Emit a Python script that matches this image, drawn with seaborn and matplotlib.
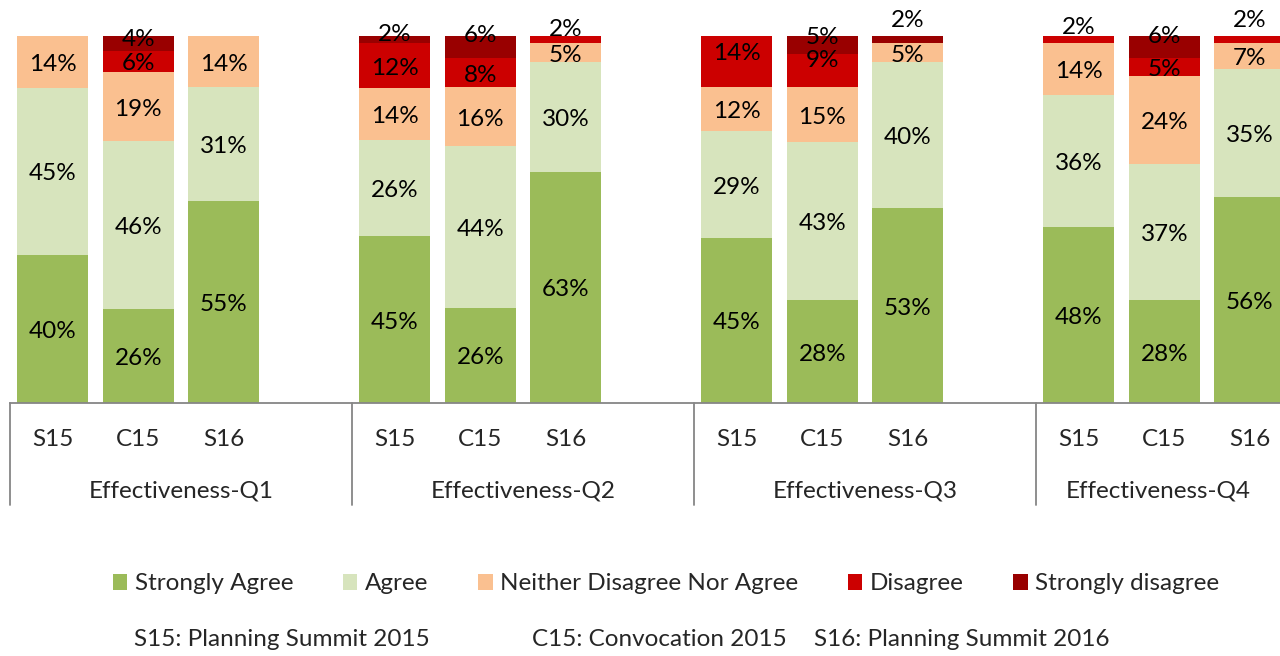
import numpy as np
import pandas as pd
import matplotlib
matplotlib.use("Agg")
import matplotlib.pyplot as plt
import matplotlib.transforms as mtransforms
from matplotlib.patches import Patch
import seaborn as sns

# ---------------- data ----------------
groups = ["Effectiveness-Q1", "Effectiveness-Q2", "Effectiveness-Q3", "Effectiveness-Q4"]
surveys = ["S15", "C15", "S16"]
categories = ["Strongly Agree", "Agree", "Neither Disagree Nor Agree", "Disagree", "Strongly disagree"]
strongly_agree = [40, 26, 55, 45, 26, 63, 45, 28, 53, 48, 28, 56]
agree = [45, 46, 31, 26, 44, 30, 29, 43, 40, 36, 37, 35]
neither = [14, 19, 14, 14, 16, 5, 12, 15, 5, 14, 24, 7]
disagree = [0, 6, 0, 12, 8, 2, 14, 9, 0, 2, 5, 2]
strongly_disagree = [0, 4, 0, 2, 6, 0, 0, 5, 2, 0, 6, 0]
footnotes = ["S15: Planning Summit 2015", "C15: Convocation 2015", "S16: Planning Summit 2016"]

colors = ["#9BBB59", "#D7E4BD", "#FAC090", "#CC0000", "#990000"]

# manual label shifts (pixels upward) for small top segments
label_shift = {
    ("Effectiveness-Q1", "C15", "Strongly disagree"): 6,
    ("Effectiveness-Q2", "S15", "Strongly disagree"): 8,
    ("Effectiveness-Q2", "C15", "Strongly disagree"): 14,
    ("Effectiveness-Q2", "S16", "Disagree"): 13,
    ("Effectiveness-Q3", "S15", "Disagree"): 11,
    ("Effectiveness-Q3", "C15", "Strongly disagree"): 10,
    ("Effectiveness-Q3", "C15", "Disagree"): 13,
    ("Effectiveness-Q3", "S16", "Strongly disagree"): 22,
    ("Effectiveness-Q4", "S15", "Disagree"): 15,
    ("Effectiveness-Q4", "C15", "Strongly disagree"): 13,
    ("Effectiveness-Q4", "S16", "Disagree"): 22,
}

FONT = ["Lato", "DejaVu Sans"]
FS = 17.5
sns.set_theme(style="white")
plt.rcParams["font.family"] = FONT

# ---------------- frame ----------------
rows = []
series = [strongly_agree, agree, neither, disagree, strongly_disagree]
for gi, g in enumerate(groups):
    for si, s in enumerate(surveys):
        idx = gi * 3 + si
        vals = [ser[idx] for ser in series]
        rows.append(dict(group=g, survey=s, pos=gi * 4 + si + 0.5,
                         **{c: v for c, v in zip(categories, vals)}))
df = pd.DataFrame(rows)
total = df[categories].sum(axis=1)
norm = df[categories].div(total, axis=0) * 100
cum = norm.cumsum(axis=1)
for c in categories:
    df["cum_" + c] = cum[c]
    df["bot_" + c] = cum[c] - norm[c]
    df["h_" + c] = norm[c]

# ---------------- figure ----------------
W, H = 1280, 656
fig = plt.figure(figsize=(W / 100, H / 100), dpi=100)
ax_left, ax_right = 10, 10 + 16 * 85.5
ax_top, ax_bot = 36, 403
ax = fig.add_axes([ax_left / W, 1 - ax_bot / H, (ax_right - ax_left) / W, (ax_bot - ax_top) / H])

for c, col in reversed(list(zip(categories, colors))):
    sns.barplot(data=df, x="pos", y="cum_" + c, native_scale=True, width=0.83,
                color=col, saturation=1, errorbar=None, linewidth=0, ax=ax)

ax.set_xlim(0, 16)
ax.set_ylim(0, 100)
ax.set_xlabel("")
ax.set_ylabel("")
ax.set_yticks([])
for sp in ["top", "right", "left"]:
    ax.spines[sp].set_visible(False)
ax.spines["bottom"].set_color("#868686")
ax.spines["bottom"].set_linewidth(1.3)

# data labels
for _, r in df.iterrows():
    for c in categories:
        v = r[c]
        if v <= 0:
            continue
        yc = r["bot_" + c] + r["h_" + c] / 2
        shift = label_shift.get((r["group"], r["survey"], c), 0) - 2.5
        ax.annotate(f"{int(v)}%", (r["pos"], yc), xytext=(0, shift * 0.72),
                    textcoords="offset points", ha="center", va="center",
                    fontsize=FS, color="#000000")

# category tick labels
ax.set_xticks(df["pos"])
ax.set_xticklabels(df["survey"], fontsize=FS)
ax.tick_params(axis="x", length=0, pad=19)

# group labels (centred on visible part of each group) and separators
trans = mtransforms.blended_transform_factory(ax.transData, ax.transAxes)
sep_depth = (505 - ax_bot) / (ax_bot - ax_top)
grp_y = -(491 - ax_bot) / (ax_bot - ax_top)
x_visible_max = 16 * (W - ax_left) / (ax_right - ax_left)
for gi, g in enumerate(groups):
    lo, hi = gi * 4, min(gi * 4 + 4, x_visible_max)
    ax.text((lo + hi) / 2, grp_y, g, transform=trans, ha="center", va="center", fontsize=FS)
for xs in [0, 4, 8, 12, 16]:
    ax.plot([xs, xs], [0, -sep_depth], transform=trans, color="#868686",
            lw=1.3, clip_on=False)

# legend
handles = [Patch(facecolor=col, edgecolor="none") for col in colors]
fig.legend(handles, categories, loc="center", ncol=5,
           bbox_to_anchor=(666 / W, 1 - 584 / H), frameon=False,
           fontsize=FS, handlelength=0.6, handleheight=0.6,
           handletextpad=0.3, columnspacing=2.05)

# footnotes
for txt, xc in zip(footnotes, [282, 659, 962]):
    fig.text(xc / W, 1 - 640 / H, txt, ha="center", va="center", fontsize=FS)

fig.savefig("out.png", dpi=100)
